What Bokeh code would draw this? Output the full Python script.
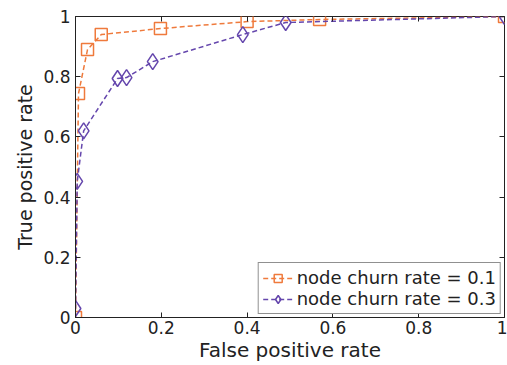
from bokeh.plotting import figure
from bokeh.models import Range1d, FixedTicker, LinearAxis, Legend, LegendItem
from bokeh.embed import file_html
from bokeh.resources import INLINE

fpr_01 = [0.0, 0.007, 0.028, 0.06, 0.198, 0.40, 0.569, 1.0]
tpr_01 = [0.0, 0.744, 0.89, 0.94, 0.96, 0.983, 0.99, 1.0]
fpr_03 = [0.0, 0.004, 0.019, 0.098, 0.119, 0.18, 0.39, 0.49, 1.0]
tpr_03 = [0.03, 0.452, 0.62, 0.794, 0.797, 0.85, 0.94, 0.98, 1.0]
ticks = [0, 0.2, 0.4, 0.6, 0.8, 1]
tick_labels = ["0", "0.2", "0.4", "0.6", "0.8", "1"]
names = ["node churn rate = 0.1", "node churn rate = 0.3"]

ORANGE = "#ef7a3c"
PURPLE = "#6547ad"
FONT = "DejaVu Sans"
INK = "#222222"

p = figure(width=507, height=365, output_backend="svg", toolbar_location=None,
           x_range=Range1d(0, 1), y_range=Range1d(0, 1),
           min_border_left=75, min_border_right=3, min_border_top=16, min_border_bottom=48)
p.frame_width = 429
p.frame_height = 301
p.xgrid.visible = False
p.ygrid.visible = False
p.outline_line_color = INK
p.outline_line_width = 1

overrides = {t: s for t, s in zip(ticks, tick_labels)}
for ax in (p.xaxis[0], p.yaxis[0]):
    ax.ticker = FixedTicker(ticks=ticks)
    ax.major_label_overrides = overrides
    ax.major_tick_in = 5
    ax.major_tick_out = 0
    ax.minor_tick_line_color = None
    ax.axis_line_color = INK
    ax.major_tick_line_color = INK
    ax.major_label_text_font = FONT
    ax.major_label_text_font_size = "17px"
    ax.major_label_text_color = INK
    ax.axis_label_text_font = FONT
    ax.axis_label_text_font_style = "normal"
    ax.axis_label_text_color = INK
p.xaxis.axis_label = "False positive rate"
p.yaxis.axis_label = "True positive rate"
p.xaxis.axis_label_text_font_size = "20px"
p.yaxis.axis_label_text_font_size = "19px"
p.xaxis.major_label_standoff = 3
p.xaxis.axis_label_standoff = 1
p.yaxis.major_label_standoff = 5
p.yaxis.axis_label_standoff = 4

for loc in ("above", "right"):
    ax = LinearAxis(ticker=FixedTicker(ticks=ticks), major_tick_in=5, major_tick_out=0,
                    minor_tick_line_color=None, axis_line_color=None,
                    major_tick_line_color=INK, major_label_text_font_size="1px",
                    major_label_text_color=None, major_label_standoff=0)
    p.add_layout(ax, loc)

l1 = p.line(fpr_01, tpr_01, line_color=ORANGE, line_width=1.5, line_dash="5 3")
m1 = p.scatter(fpr_01, tpr_01, marker="square", size=12, line_color=ORANGE,
               fill_color=None, line_width=1.5)
l2 = p.line(fpr_03, tpr_03, line_color=PURPLE, line_width=1.5, line_dash="5 3")
m2 = p.scatter(fpr_03, tpr_03, marker="diamond", size=16, line_color=PURPLE,
               fill_color=None, line_width=1.5)

legend = Legend(items=[LegendItem(label=names[0], renderers=[l1, m1]),
                       LegendItem(label=names[1], renderers=[l2, m2])],
                location="bottom_right", label_text_font=FONT,
                label_text_font_size="18px", label_text_color=INK,
                border_line_color=INK, border_line_width=1,
                background_fill_alpha=1, margin=3, padding=4, spacing=0,
                glyph_width=30, label_standoff=4, label_height=20, glyph_height=20)
p.add_layout(legend)

open("out.html", "w").write(file_html(p, INLINE))
